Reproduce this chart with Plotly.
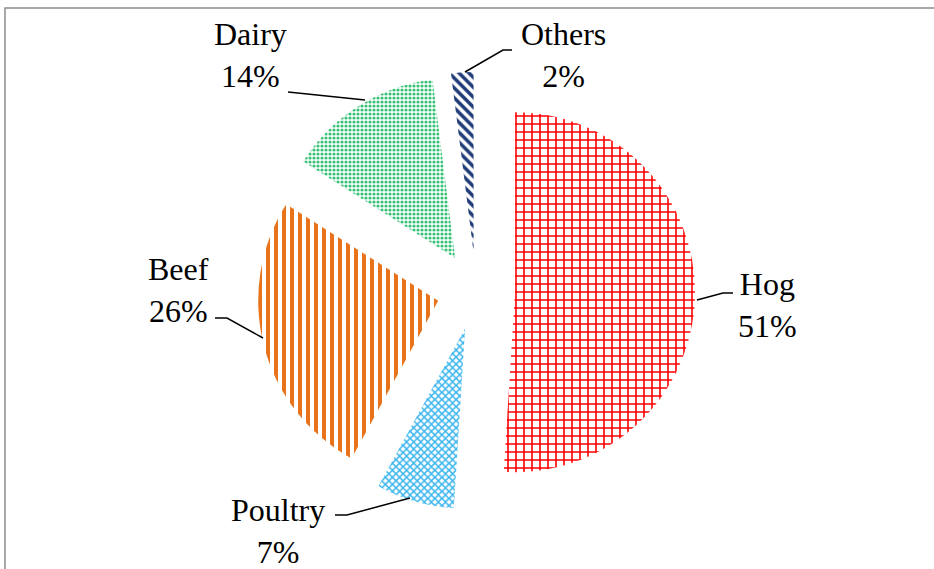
import plotly.graph_objects as go

# ---- data ----
labels = ["Hog", "Poultry", "Beef", "Dairy", "Others"]
values = [51, 7, 26, 14, 2]

# ---- styling ----
pattern_shapes = ["+", "x", "|", ".", "\\"]
pattern_colors = ["#FF0000", "#3DB6EE", "#E8731A", "#35C275", "#1F3C78"]
pattern_sizes = [8, 5, 8, 4, 7]
pattern_solidity = [0.36, 0.5, 0.5, 0.5, 0.5]
pull = 0.217

W, H = 934, 569
L, R, T, B = 62, 44, 72, 59
PW, PH = W - L - R, H - T - B


def px(x):
    return (x - L) / PW


def py(y):
    return 1 - (y - T) / PH


fig = go.Figure(go.Pie(
    labels=labels,
    values=values,
    sort=False,
    direction="clockwise",
    rotation=0,
    pull=[pull] * len(values),
    textinfo="none",
    hoverinfo="label+percent",
    showlegend=False,
    marker=dict(
        colors=["white"] * len(values),
        line=dict(width=0),
        pattern=dict(
            shape=pattern_shapes,
            fgcolor=pattern_colors,
            bgcolor="white",
            size=pattern_sizes,
            solidity=pattern_solidity,
            fillmode="replace",
        ),
    ),
))

# label placement (pixel positions of text block centres) and leader lines
label_pos = {
    "Hog": (767, 305),
    "Poultry": (278, 531),
    "Beef": (178, 290),
    "Dairy": (250, 55),
    "Others": (563, 55),
}
leaders = {
    "Hog": [(733, 293), (723, 293), (697, 300)],
    "Poultry": [(335, 515), (347, 515), (410, 498)],
    "Beef": [(215, 318), (227, 318), (263, 338)],
    "Dairy": [(288, 92), (365, 100)],
    "Others": [(512, 50), (503, 50), (465, 72)],
}

annotations = []
shapes = []
for lab, val in zip(labels, values):
    x, y = label_pos[lab]
    annotations.append(dict(
        x=px(x), y=py(y), xref="paper", yref="paper",
        text=f"{lab}<br>{val}%", showarrow=False,
        xanchor="center", yanchor="middle",
        font=dict(family="Liberation Serif", size=32, color="black"),
    ))
    pts = leaders[lab]
    path = "M " + " L ".join(f"{px(a):.5f},{py(b):.5f}" for a, b in pts)
    shapes.append(dict(type="path", path=path, xref="paper", yref="paper",
                       line=dict(color="black", width=1.5)))

# outer chart border (top and left visible)
shapes.append(dict(type="rect", xref="paper", yref="paper",
                   x0=px(5), y0=py(8), x1=px(950), y1=py(590),
                   line=dict(color="#8c8c8c", width=1.5), fillcolor="rgba(0,0,0,0)"))

fig.update_layout(
    width=W, height=H,
    margin=dict(l=L, r=R, t=T, b=B),
    paper_bgcolor="white",
    plot_bgcolor="white",
    annotations=annotations,
    shapes=shapes,
)

fig.write_html("out.html", config={"displayModeBar": False},
               post_script="document.body.style.margin='0';")
